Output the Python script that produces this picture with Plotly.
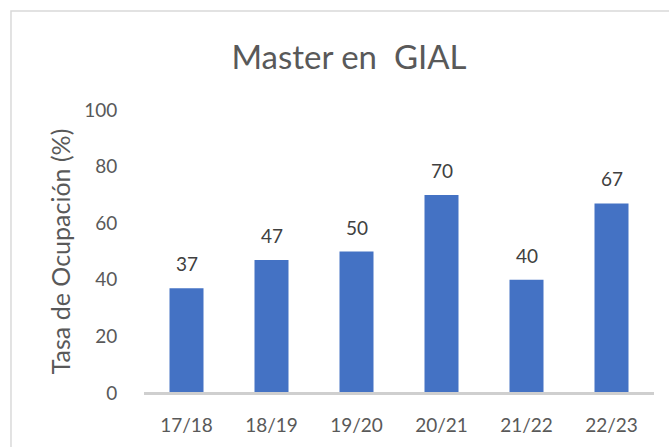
import plotly.graph_objects as go

categories = ["17/18", "18/19", "19/20", "20/21", "21/22", "22/23"]
values = [37, 47, 50, 70, 40, 67]
y_ticks = [0, 20, 40, 60, 80, 100]

FONT = "Lato"
GREY = "#595959"

fig = go.Figure(go.Bar(
    x=categories, y=values, marker_color="#4472C4",
    marker_line_width=0, width=0.4, hoverinfo="skip",
))

for c, v in zip(categories, values):
    fig.add_annotation(x=c, y=v, text=str(v), showarrow=False,
                       yanchor="bottom", yshift=11,
                       font=dict(family=FONT, size=19, color="#404040"))

fig.add_shape(type="rect", xref="paper", yref="paper",
              x0=-0.2608, x1=1.06, y0=-0.25, y1=1.3498,
              line=dict(color="#D9D9D9", width=1.5), layer="below")

# category axis baseline
fig.add_shape(type="line", xref="paper", yref="y",
              x0=0, x1=1, y0=y_ticks[0], y1=y_ticks[0],
              line=dict(color="#CFCFCF", width=2), layer="above")

fig.update_layout(
    width=669, height=447,
    margin=dict(l=144, r=15, t=110, b=54),
    paper_bgcolor="white", plot_bgcolor="white",
    showlegend=False,
    title=dict(text="Master en  GIAL", x=349/669, xanchor="center",
               y=1 - 57/447, yanchor="middle",
               font=dict(family=FONT, size=33, color=GREY)),
    xaxis=dict(showgrid=False, showline=True, linecolor="#CFCFCF", linewidth=2,
               ticks="outside", ticklen=14, tickcolor="rgba(255,255,255,0)",
               tickfont=dict(family=FONT, size=19, color=GREY)),
    yaxis=dict(range=[0, 100], tickvals=y_ticks, showgrid=False, zeroline=False,
               showline=False, ticks="outside", ticklen=22,
               tickcolor="rgba(255,255,255,0)",
               tickfont=dict(family=FONT, size=19, color=GREY),
               title=dict(text="Tasa de Ocupación (%)", standoff=6,
                          font=dict(family=FONT, size=25, color=GREY))),
)

fig.write_html("out.html", config={"displayModeBar": False},
               post_script="document.body.style.margin='0';")
